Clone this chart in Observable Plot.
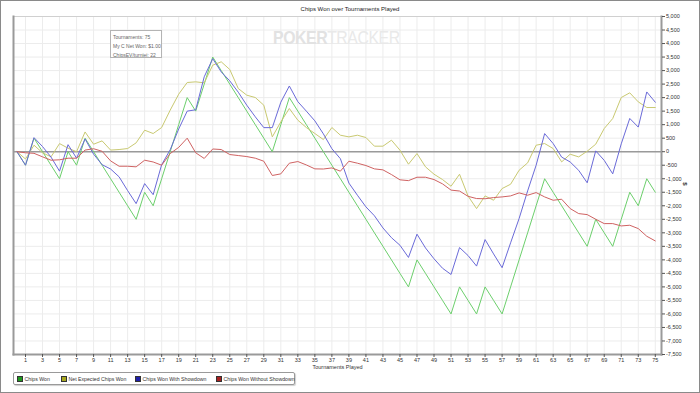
<!DOCTYPE html>
<html><head><meta charset="utf-8">
<script src="https://cdn.jsdelivr.net/npm/d3@7"></script>
<script src="https://cdn.jsdelivr.net/npm/@observablehq/plot@0.6"></script>
<style>
body{margin:0;background:#fff;font-family:"Liberation Sans",Arial,sans-serif;}
#wrap{position:relative;width:700px;height:393px;overflow:hidden;background:#fff;}
#chart{position:absolute;left:0;top:0;}
#border{position:absolute;left:0;top:0;width:700px;height:393px;box-sizing:border-box;border:1px solid #8a8a8a;pointer-events:none;}
#title{position:absolute;left:0;top:6px;width:700px;text-align:center;font-size:6px;color:#222;line-height:7px;}
#info{position:absolute;left:110px;top:30px;width:52px;height:28px;box-sizing:border-box;border:1px solid #b4b4b4;background:#fff;font-size:5px;color:#666;padding:1.5px 0 0 2px;line-height:9px;white-space:nowrap;overflow:hidden;}
#wm{position:absolute;left:273px;top:28px;font-size:18px;color:#e9e9e9;white-space:nowrap;letter-spacing:-0.5px;transform-origin:0 0;transform:scaleX(0.88);}
#wm b{font-weight:bold;color:#e2e2e2;}
#legend{position:absolute;left:13px;top:372px;width:282px;height:13px;box-sizing:border-box;border:1px solid #9a9a9a;border-radius:2px;box-shadow:1px 1px 1px #d0d0d0;background:#fff;font-size:5.2px;color:#333;}
#legend .it{position:absolute;top:3px;white-space:nowrap;line-height:6px;}
#legend .sw{display:inline-block;width:3.5px;height:3.5px;border:0.5px solid #333;vertical-align:middle;margin-right:2px;position:relative;top:-0.5px;}
</style></head><body>
<div id="wrap">
  <div id="chart"></div>
  <div id="wm"><b>POKER</b>TRACKER</div>
  <div id="title">Chips Won over Tournaments Played</div>
  <div id="info">Tournaments: 75<br>My C Net Won: $1.00<br>ChipsEV/turniej: 22</div>
  <div id="legend"></div>
  <div id="border"></div>
</div>
<script>
const tournaments = d3.range(0, 76);
const xTicks = [1,3,5,7,9,11,13,15,17,19,21,23,25,27,29,31,33,35,37,39,41,43,45,47,49,51,53,55,57,59,61,63,65,67,69,71,73,75];
const yTicks = [-7500,-7000,-6500,-6000,-5500,-5000,-4500,-4000,-3500,-3000,-2500,-2000,-1500,-1000,-500,0,500,1000,1500,2000,2500,3000,3500,4000,4500,5000];

const seriesNames = ["Chips Won","Net Expected Chips Won","Chips Won With Showdown","Chips Won Without Showdown"];
const lineColors = ["#6ccf6c","#c9c971","#6a6ad8","#cf6262"];
const swatchColors = ["#1f9a1f","#a8a820","#1f1fa8","#a82020"];

const chipsWon = [0,-500,500,0,-500,-1000,0,-500,500,0,-500,-1000,-1500,-2000,-2500,-1500,-2000,-1000,0,1000,2000,1500,2500,3500,3000,2500,2000,1500,1000,500,0,1000,2000,1500,1000,500,0,-500,-1000,-1500,-2000,-2500,-3000,-3500,-4000,-4500,-5000,-4000,-4500,-5000,-5500,-6000,-5000,-5500,-6000,-5000,-5500,-6000,-5000,-4000,-3000,-2000,-1000,-1500,-2000,-2500,-3000,-3500,-2500,-3000,-3500,-2500,-1500,-2000,-1000,-1500];
const netExpected = [0,-270,240,-40,-190,300,130,0,730,277,400,60,80,117,327,795,672,894,1535,2127,2559,2584,2546,3200,3324,3040,2337,2090,2004,1720,548,1103,1597,1165,894,672,450,894,610,548,610,524,204,204,426,56,-462,-68,-561,-832,-1030,-1277,-833,-1640,-2104,-1635,-1795,-1363,-1203,-685,-413,240,302,117,-376,-93,-192,18,277,857,1227,2004,2177,1843,1634,1634];
const withShowdown = [0,-500,520,190,-200,-720,260,-240,470,-90,-480,-640,-930,-1440,-1920,-1180,-1590,-480,70,840,1500,1550,2770,3440,2950,2620,2200,1720,1290,890,890,1830,2430,1850,1500,1140,660,110,-260,-1160,-1610,-2040,-2370,-2820,-3180,-3460,-3910,-3050,-3560,-3960,-4310,-4540,-3545,-3840,-4230,-3250,-3780,-4290,-3370,-2470,-1450,-500,670,300,-200,-380,-690,-1150,30,-320,-820,290,1230,910,2210,1830];
const withoutShowdown = [0,-40,-60,-190,-315,-300,-240,-240,60,110,15,-340,-537,-537,-560,-315,-380,-500,-70,160,500,-40,-250,100,80,-105,-142,-180,-240,-352,-880,-820,-425,-364,-490,-635,-640,-600,-720,-352,-425,-512,-635,-672,-845,-1040,-1070,-944,-944,-1030,-1190,-1420,-1455,-1650,-1733,-1740,-1696,-1672,-1635,-1523,-1610,-1512,-1672,-1795,-1758,-2104,-2289,-2326,-2498,-2659,-2659,-2745,-2720,-2844,-3127,-3300];

const seriesValues = [chipsWon, netExpected, withShowdown, withoutShowdown];
const rows = seriesNames.flatMap((name, i) => tournaments.map((t, j) => ({t, v: seriesValues[i][j], series: name})));

const fmt = d => d.toLocaleString("en-US");
const font = '"Liberation Sans", Arial, sans-serif';

const chart = Plot.plot({
  width: 700,
  height: 393,
  marginTop: 16,
  marginBottom: 39,
  marginLeft: 13,
  marginRight: 39,
  style: {fontFamily: font, fontSize: "5.5px", color: "#333", background: "transparent", overflow: "visible"},
  x: {domain: [-0.41, 75.73]},
  y: {domain: [-7500, 5000]},
  color: {domain: seriesNames, range: lineColors},
  marks: [
    Plot.gridY(yTicks, {stroke: "#ececec", strokeOpacity: 1}),
    Plot.gridX(xTicks, {stroke: "#ececec", strokeOpacity: 1}),
    Plot.frame({stroke: "#d0d0d0"}),
    Plot.ruleY([0], {stroke: "#9a9a9a", strokeWidth: 1.6}),
    Plot.line(rows, {x: "t", y: "v", z: "series", stroke: "series", strokeWidth: 1}),
    Plot.frame({anchor: "left", stroke: "#9a9a9a", strokeWidth: 2}),
    Plot.frame({anchor: "bottom", stroke: "#9a9a9a", strokeWidth: 2}),
    Plot.frame({anchor: "right", stroke: "#9a9a9a", strokeWidth: 2}),
    Plot.axisY(yTicks, {anchor: "right", tickSize: 3, tickPadding: 1.5, tickFormat: fmt, label: null, stroke: "#555", fill: "#333"}),
    Plot.axisX(xTicks, {anchor: "bottom", tickSize: 3, tickPadding: 0.5, label: null, stroke: "#555", fill: "#333"}),
    Plot.text(["Tournaments Played"], {frameAnchor: "bottom", dy: 14, fill: "#333", fontSize: 5.5}),
    Plot.text(["$"], {frameAnchor: "right", dx: 23, rotate: 90, fill: "#333", fontSize: 6, fontWeight: "bold"})
  ]
});
document.getElementById("chart").appendChild(chart);

const legendX = [3, 47, 121, 202];
const legend = document.getElementById("legend");
seriesNames.forEach((name, i) => {
  const it = document.createElement("div");
  it.className = "it";
  it.style.left = legendX[i] + "px";
  it.innerHTML = `<span class="sw" style="background:${swatchColors[i]}"></span>${name}`;
  legend.appendChild(it);
});
</script>
</body></html>
